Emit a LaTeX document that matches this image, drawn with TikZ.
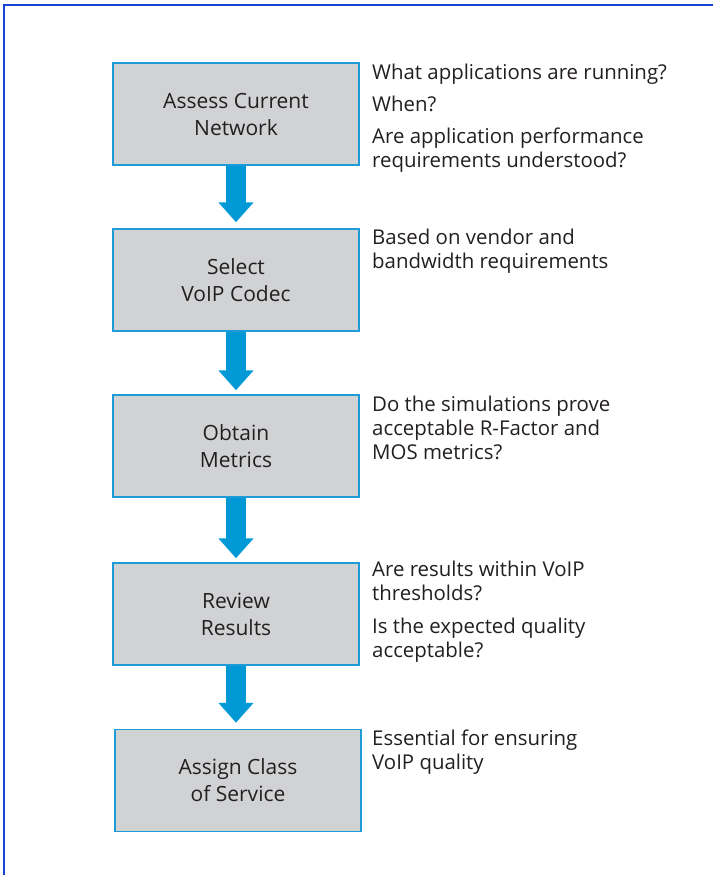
\documentclass[tikz,border=0pt]{standalone}
\usepackage{fontspec}
\setmainfont{Open Sans}
\usetikzlibrary{arrows.meta}
\definecolor{frameblue}{HTML}{1744D6}
\definecolor{boxline}{HTML}{1E9BD7}
\definecolor{boxfill}{HTML}{D1D2D4}
\definecolor{arrowblue}{HTML}{0098D5}
\definecolor{txt}{HTML}{231F20}
\tikzset{
  stepbox/.style={draw=boxline, line width=1.5pt, fill=boxfill, minimum width=246pt, minimum height=102pt,
    inner sep=0pt, align=center, text=txt, font=\fontsize{21}{27}\selectfont},
  bigarrow/.style={draw=arrowblue, line width=20pt, line cap=butt,
    -{Triangle[width=34pt,length=20pt]}},
  note/.style={anchor=base west, inner sep=0pt, text=txt, font=\fontsize{20.4}{24}\selectfont}
}
\begin{document}
\begin{tikzpicture}[x=1pt,y=-1pt]
\useasboundingbox (0,0) rectangle (713,875);
\coordinate (fr1) at (713,5);
\coordinate (fr2) at (4,5);
\coordinate (fr3) at (4,875);
\draw[frameblue, line width=2.5pt] (fr1) -- (fr2) -- (fr3);

\node[stepbox] (b1) at (236,114) {Assess Current\\Network};
\node[stepbox] (b2) at (236,280) {Select\\VoIP Codec};
\node[stepbox] (b3) at (236,446) {Obtain\\Metrics};
\node[stepbox] (b4) at (236,614) {Review\\Results};
\node[stepbox] (b5) at (238,780.5) {Assign Class\\of Service};

\draw[bigarrow] (b1.south) -- ([yshift=6pt]b2.north);
\draw[bigarrow] (b2.south) -- ([yshift=4pt]b3.north);
\draw[bigarrow] (b3.south) -- ([yshift=4pt]b4.north);
\draw[bigarrow] (b4.south) -- ([yshift=6pt]b4.south |- b5.north);

\node[note] (t1a) at (372,79) {What applications are running?};
\node[note] (t1b) at (372,111) {When?};
\node[note] (t1c) at (372,143) {Are application performance};
\node[note] (t1d) at (372,167) {requirements understood?};

\node[note] (t2a) at (372,244) {Based on vendor and};
\node[note] (t2b) at (372,268) {bandwidth requirements};

\node[note] (t3a) at (372,411) {Do the simulations prove};
\node[note] (t3b) at (372,435) {acceptable R-Factor and};
\node[note] (t3c) at (372,459) {MOS metrics?};

\node[note] (t4a) at (372,576) {Are results within VoIP};
\node[note] (t4b) at (372,600) {thresholds?};
\node[note] (t4c) at (372,633) {Is the expected quality};
\node[note] (t4d) at (372,657) {acceptable?};

\node[note] (t5a) at (372,745) {Essential for ensuring};
\node[note] (t5b) at (372,769) {VoIP quality};
\end{tikzpicture}
\end{document}
